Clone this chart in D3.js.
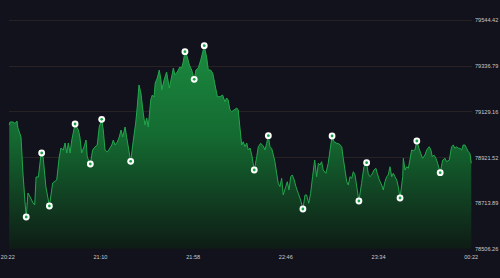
<!doctype html>
<html>
<head>
<meta charset="UTF-8">
<title>price area</title>
<script src="https://d3js.org/d3.v7.min.js"></script>
<style>
  html, body { margin: 0; padding: 0; background: #12121c; }
  svg { display: block; }
  .axis text { font-family: "Liberation Sans", Arial, sans-serif; font-size: 5.6px; fill: #c9c9cf; }
  .axis path, .axis line { display: none; }
</style>
</head>
<body>
<svg id="chart" width="500" height="278"></svg>
<script>
// minutes after 20:22
var minutes = [1.0, 1.4, 3.0, 4.0, 5.0, 5.5, 7.1, 8.1, 9.2, 9.8, 10.7, 12.1, 13.3, 14.2, 14.9, 16.1, 17.3, 17.8, 18.6, 20.0,
  21.8, 23.5, 25.6, 26.9, 27.8, 29.0, 29.9, 30.8, 31.6, 32.5, 33.4, 35.1, 36.8, 37.6, 38.5, 39.7, 40.8, 41.4, 43.0, 44.2,
  45.4, 46.6, 47.6, 48.9, 49.7, 50.6, 51.8, 53.2, 54.1, 54.9, 55.8, 57.0, 58.0, 58.9, 59.8, 61.0, 61.8, 63.9, 65.3, 66.5,
  67.3, 68.2, 69.2, 70.4, 71.3, 72.2, 73.0, 74.3, 75.1, 76.0, 76.6, 77.7, 78.7, 79.6, 80.0, 81.2, 82.5, 83.9, 85.1, 86.0,
  86.8, 88.0, 89.4, 90.3, 91.1, 92.0, 93.2, 94.3, 95.5, 96.8, 97.7, 98.9, 100.2, 102.0, 103.3, 104.1, 105.3, 106.4, 107.6, 108.8,
  110.2, 111.5, 112.7, 113.6, 114.4, 115.3, 116.2, 117.4, 118.8, 119.6, 120.5, 121.4, 122.2, 123.1, 124.0, 124.8, 125.7, 126.6, 127.9, 129.2,
  130.0, 131.2, 132.6, 133.5, 134.3, 135.2, 136.0, 136.9, 137.8, 138.6, 139.5, 140.3, 141.2, 142.1, 142.9, 144.2, 145.0, 145.9, 146.8, 147.6,
  148.6, 149.5, 150.7, 151.9, 153.1, 154.2, 155.0, 156.1, 157.1, 158.1, 159.2, 160.2, 161.1, 161.9, 162.8, 163.6, 165.0, 166.2, 168.2, 169.2,
  170.6, 171.9, 173.2, 174.0, 174.9, 175.8, 176.6, 177.5, 178.4, 179.2, 180.1, 182.1, 183.5, 184.7, 186.1, 186.9, 187.8, 188.7, 189.9, 190.9,
  191.6, 192.7, 193.9, 194.7, 195.6, 196.5, 197.3, 198.2, 199.1, 199.9, 200.8, 201.7, 202.5, 203.4, 204.8, 205.1, 206.0, 206.8, 207.7, 208.5,
  209.4, 210.2, 211.1, 212.1, 213.2, 214.1, 215.1, 216.3, 217.2, 218.5, 219.4, 220.1, 220.9, 222.0, 222.9, 224.2, 225.5, 226.7, 227.5, 228.9,
  230.1, 231.0, 231.8, 232.7, 233.5, 234.4, 235.3, 236.1, 237.0, 237.9, 238.7, 239.6, 240.3];

var prices = [79067.8, 79081.4, 79081.4, 79074.6, 79086.0, 79054.2, 79013.3, 78849.9, 78713.8, 78650.2, 78759.2, 78736.5, 78713.8, 78704.7, 78831.8, 78831.8, 78922.6, 78940.7, 78918.0, 78786.4,
  78700.1, 78804.5, 78818.2, 78922.6, 78963.4, 78954.3, 78986.1, 78940.7, 78986.1, 78940.7, 78999.7, 79072.3, 79045.1, 79013.3, 78940.7, 78967.9, 78999.7, 78922.6, 78890.8, 78954.3,
  78967.9, 78977.0, 79058.7, 79093.7, 79045.1, 78954.3, 78945.3, 78963.4, 78977.0, 78999.7, 78977.0, 78990.6, 79013.3, 79045.1, 79013.3, 79058.7, 79013.3, 78903.0, 78999.7, 79076.9,
  79149.5, 79249.4, 79213.1, 79122.3, 79067.8, 79099.6, 79058.7, 79181.3, 79204.0, 79194.9, 79258.4, 79281.1, 79317.4, 79272.1, 79226.7, 79272.1, 79308.4, 79235.7, 79285.7, 79326.5,
  79294.8, 79308.4, 79331.1, 79326.5, 79353.8, 79400.5, 79377.8, 79340.1, 79317.4, 79275.2, 79317.4, 79326.5, 79362.8, 79427.7, 79371.9, 79317.4, 79317.4, 79302.5, 79249.4, 79196.3,
  79196.3, 79204.0, 79173.6, 79190.4, 79181.3, 79135.9, 79128.2, 79135.9, 79145.0, 79135.9, 79054.2, 78977.0, 78992.0, 78969.3, 78986.1, 78954.3, 78963.4, 78931.6, 78863.5, 78923.9,
  78969.3, 78984.7, 78972.5, 78954.3, 78984.7, 79019.2, 78969.3, 78962.0, 78931.6, 78901.2, 78848.6, 78803.2, 78787.8, 78825.9, 78750.1, 78787.8, 78810.4, 78772.8, 78833.1, 78840.9,
  78818.2, 78787.8, 78757.8, 78727.4, 78686.5, 78750.1, 78750.1, 78712.4, 78757.8, 78833.1, 78908.9, 78833.1, 78894.0, 78886.2, 78901.2, 78863.5, 78848.6, 78894.0, 79017.9, 78992.0,
  78984.7, 78981.6, 78969.3, 78916.7, 78863.5, 78810.4, 78795.5, 78833.1, 78825.9, 78855.8, 78840.9, 78722.8, 78803.2, 78878.5, 78896.7, 78848.6, 78833.1, 78840.9, 78863.5, 78871.3,
  78848.6, 78818.2, 78795.5, 78772.8, 78810.4, 78833.1, 78840.9, 78878.5, 78833.1, 78848.6, 78833.1, 78818.2, 78787.8, 78736.5, 78833.1, 78916.7, 78863.5, 78878.5, 78871.3, 78908.9,
  78954.3, 78951.2, 78954.3, 78995.2, 78962.0, 78939.4, 78916.7, 78931.6, 78954.3, 78969.3, 78954.3, 78923.9, 78931.6, 78916.7, 78894.0, 78851.3, 78908.9, 78916.7, 78901.2, 78908.9,
  78969.3, 78977.0, 78962.0, 78969.3, 78962.0, 78962.0, 78954.3, 78977.0, 78977.0, 78962.0, 78946.6, 78939.4, 78894.0];

// highlighted points (minutes after 20:22)
var markerMinutes = [9.8, 17.8, 21.8, 35.1, 43.0, 48.9, 63.9, 92.0, 96.8, 102.0, 127.9, 135.2, 153.1, 168.2, 182.1, 186.1, 203.4, 212.1, 224.2];

var yTicks = [78506.26, 78713.89, 78921.52, 79129.16, 79336.79, 79544.42];
var xTickLabels = ["20:22", "21:10", "21:58", "22:46", "23:34", "00:22"];

var start = new Date(2024, 0, 1, 20, 22);
function toDate(m) { return new Date(start.getTime() + m * 60000); }
function parseTick(s) {
  var p = s.split(":").map(Number);
  var d = new Date(2024, 0, 1, p[0], p[1]);
  if (d < start) d = new Date(2024, 0, 2, p[0], p[1]);
  return d;
}

var data = minutes.map(function (m, i) { return { t: toDate(m), v: prices[i], m: m }; });
var markers = markerMinutes.map(function (m) {
  return data.reduce(function (a, b) { return Math.abs(b.m - m) < Math.abs(a.m - m) ? b : a; });
});

var svg = d3.select("#chart");
var plotL = 7.3, plotR = 470.7, plotT = 20, plotB = 248.7;

var x = d3.scaleTime()
  .domain([parseTick(xTickLabels[0]), parseTick(xTickLabels[xTickLabels.length - 1])])
  .range([plotL, plotR]);
var y = d3.scaleLinear()
  .domain([yTicks[0], yTicks[yTicks.length - 1]])
  .range([plotB, plotT]);

var defs = svg.append("defs");
var grad = defs.append("linearGradient")
  .attr("id", "fillGrad")
  .attr("gradientUnits", "userSpaceOnUse")
  .attr("x1", 0).attr("x2", 0)
  .attr("y1", y(79430)).attr("y2", plotB);
grad.append("stop").attr("offset", "0%").attr("stop-color", "#1b8a3f");
grad.append("stop").attr("offset", "45%").attr("stop-color", "#146a31");
grad.append("stop").attr("offset", "100%").attr("stop-color", "#0e1c15");

// grid
svg.append("g").selectAll("line")
  .data(yTicks.slice(1))
  .enter().append("line")
  .attr("x1", 9).attr("x2", 472)
  .attr("y1", function (d) { return Math.round(y(d)) + 0.5; })
  .attr("y2", function (d) { return Math.round(y(d)) + 0.5; })
  .attr("stroke", "#282224")
  .attr("stroke-width", 1);

var area = d3.area()
  .x(function (d) { return x(d.t); })
  .y0(plotB)
  .y1(function (d) { return y(d.v); });
var line = d3.line()
  .x(function (d) { return x(d.t); })
  .y(function (d) { return y(d.v); });

svg.append("path").datum(data)
  .attr("d", area)
  .attr("fill", "url(#fillGrad)");
svg.append("path").datum(data)
  .attr("d", line)
  .attr("fill", "none")
  .attr("stroke", "#22a64c")
  .attr("stroke-width", 1)
  .attr("stroke-linejoin", "round");

// markers
var mk = svg.append("g").selectAll("g")
  .data(markers)
  .enter().append("g")
  .attr("transform", function (d) { return "translate(" + x(d.t) + "," + y(d.v) + ")"; });
mk.append("circle").attr("r", 3.4).attr("fill", "#ffffff");
mk.append("circle").attr("r", 1.4).attr("fill", "#19a347");

// axes
svg.append("g")
  .attr("class", "axis")
  .attr("transform", "translate(475,0)")
  .call(d3.axisRight(y).tickValues(yTicks).tickFormat(d3.format(".2f")).tickSize(0).tickPadding(0));

svg.append("g")
  .attr("class", "axis")
  .attr("transform", "translate(0," + (plotB + 6) + ")")
  .call(d3.axisBottom(x).tickValues(xTickLabels.map(parseTick)).tickFormat(d3.timeFormat("%H:%M")).tickSize(0).tickPadding(0));
</script>
</body>
</html>
